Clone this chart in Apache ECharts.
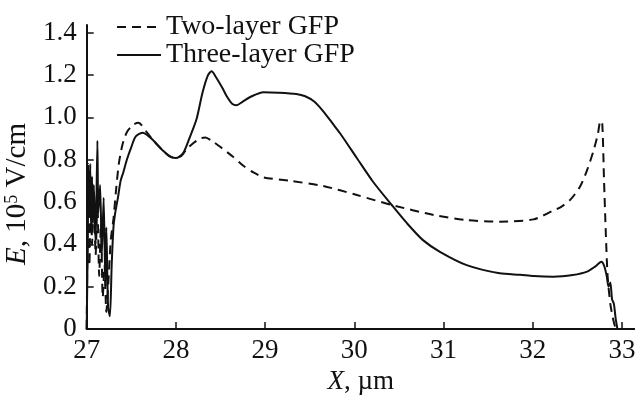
<!DOCTYPE html>
<html>
<head>
<meta charset="utf-8">
<script src="https://cdn.jsdelivr.net/npm/echarts@6/dist/echarts.min.js"></script>
<style>
  html, body { margin: 0; padding: 0; background: #fff; }
  #chart { width: 635px; height: 399px; }
</style>
</head>
<body>
<div id="chart"></div>
<script>
// two-layer GFP (dashed)
var twoX = [27.00, 27.01, 27.02, 27.03, 27.05, 27.06, 27.08, 27.10, 27.12, 27.14, 27.16, 27.18, 27.20, 27.22, 27.24,
  27.27, 27.30, 27.33, 27.36, 27.40, 27.45, 27.52, 27.58, 27.67, 27.75, 27.85, 27.95, 28.05, 28.12, 28.20, 28.27,
  28.33, 28.40, 28.50, 28.64, 28.76, 28.87, 28.98, 29.28, 29.65, 30.03, 30.42, 30.89, 31.26, 31.63, 32.01, 32.23,
  32.31, 32.42, 32.53, 32.61, 32.68, 32.73, 32.76, 32.78, 32.80, 32.82, 32.84, 32.87, 32.90, 32.93];
var twoY = [0.00, 0.50, 0.78, 0.30, 0.72, 0.40, 0.65, 0.35, 0.60, 0.25, 0.50, 0.15, 0.30, 0.08, 0.20,
  0.42, 0.52, 0.66, 0.78, 0.87, 0.93, 0.965, 0.975, 0.932, 0.89, 0.845, 0.812, 0.815, 0.85, 0.88, 0.90,
  0.905, 0.89, 0.86, 0.814, 0.77, 0.74, 0.717, 0.70, 0.676, 0.633, 0.586, 0.539, 0.515, 0.507, 0.518, 0.56,
  0.575, 0.61, 0.672, 0.751, 0.84, 0.92, 0.984, 0.97, 0.70, 0.45, 0.25, 0.12, 0.05, 0.00];

// three-layer GFP (solid)
var threeX = [27.00, 27.01, 27.02, 27.03, 27.04, 27.05, 27.06, 27.07, 27.08, 27.10, 27.12, 27.13, 27.15, 27.17, 27.19,
  27.21, 27.22, 27.24, 27.26, 27.28, 27.30, 27.32, 27.35, 27.38, 27.41, 27.45, 27.50, 27.55, 27.63, 27.75,
  27.85, 27.95, 28.00, 28.08, 28.15, 28.23, 28.30, 28.36, 28.40, 28.45, 28.52, 28.57, 28.63, 28.68, 28.75, 28.85,
  28.98, 29.15, 29.35, 29.45, 29.55, 29.65, 29.75, 29.84, 30.03, 30.21, 30.42, 30.59, 30.77, 30.96, 31.26, 31.63,
  31.86, 32.01, 32.23, 32.45, 32.61, 32.70, 32.77, 32.80, 32.83, 32.85, 32.87, 32.89, 32.91, 32.93, 32.95];
var threeY = [0.00, 0.35, 0.75, 0.55, 0.78, 0.45, 0.72, 0.50, 0.68, 0.40, 0.89, 0.55, 0.68, 0.35, 0.62,
  0.20, 0.48, 0.10, 0.06, 0.30, 0.48, 0.55, 0.62, 0.70, 0.74, 0.80, 0.86, 0.91, 0.928, 0.89,
  0.845, 0.812, 0.808, 0.83, 0.90, 0.99, 1.12, 1.20, 1.218, 1.19, 1.14, 1.10, 1.065, 1.058, 1.075, 1.10,
  1.119, 1.117, 1.111, 1.10, 1.075, 1.03, 0.975, 0.925, 0.807, 0.696, 0.586, 0.50, 0.42, 0.365, 0.302, 0.263,
  0.256, 0.25, 0.247, 0.255, 0.271, 0.295, 0.318, 0.30, 0.25, 0.20, 0.22, 0.14, 0.12, 0.05, 0.00];

var xTicks = [27, 28, 29, 30, 31, 32, 33];
var yTicks = [0, 0.2, 0.4, 0.6, 0.8, 1.0, 1.2, 1.4];

function pairs(xs, ys) {
  return xs.map(function (x, i) { return [x, ys[i]]; });
}

var chart = echarts.init(document.getElementById('chart'));
var font = 'Liberation Serif';

var option = {
  animation: false,
  backgroundColor: '#fff',
  textStyle: { fontFamily: font, color: '#111' },
  legend: {
    orient: 'vertical',
    left: 111,
    top: 8,
    itemWidth: 44,
    itemHeight: 14,
    itemGap: 0,
    itemStyle: { opacity: 0 },
    textStyle: { fontFamily: font, fontSize: 28, color: '#111' },
    data: ['Two-layer GFP', 'Three-layer GFP']
  },
  grid: { left: 86.7, right: 0, top: 25, bottom: 70, outerBoundsMode: 'none' },
  xAxis: {
    type: 'value',
    min: 27,
    max: 33.147,
    name: '{i|X}, µm',
    nameLocation: 'middle',
    nameGap: 37,
    nameTextStyle: {
      fontFamily: font, fontSize: 27, color: '#111',
      rich: { i: { fontFamily: font, fontSize: 27, fontStyle: 'italic', color: '#111' } }
    },
    splitLine: { show: false },
    axisLine: { onZero: false, lineStyle: { color: '#111', width: 2 } },
    axisTick: { inside: true, length: 7, lineStyle: { color: '#111', width: 1.5 }, customValues: xTicks },
    axisLabel: { customValues: xTicks, fontFamily: font, fontSize: 27, color: '#111', margin: 8 }
  },
  yAxis: {
    type: 'value',
    min: 0,
    max: 1.4367,
    name: '{i|E}, 10{s|5} V/cm',
    nameLocation: 'middle',
    nameGap: 46,
    nameTextStyle: {
      fontFamily: font, fontSize: 29, color: '#111',
      padding: [0, 34, 0, 0],
      rich: {
        i: { fontFamily: font, fontSize: 29, fontStyle: 'italic', color: '#111' },
        s: { fontFamily: font, fontSize: 18, color: '#111', verticalAlign: 'top', padding: [0, 0, 10, 0] }
      }
    },
    splitLine: { show: false },
    axisLine: { show: true, lineStyle: { color: '#111', width: 2 } },
    axisTick: { show: true, inside: true, length: 7, lineStyle: { color: '#111', width: 1.5 }, customValues: yTicks },
    axisLabel: {
      customValues: yTicks, fontFamily: font, fontSize: 27, color: '#111', margin: 10,
      formatter: function (v) { return v === 0 ? '0' : v.toFixed(1); }
    }
  },
  series: [
    {
      name: 'Two-layer GFP',
      type: 'line',
      symbol: 'none',
      smooth: 0.25,
      color: '#111',
      lineStyle: { color: '#111', width: 2, type: [9, 6] },
      data: pairs(twoX, twoY)
    },
    {
      name: 'Three-layer GFP',
      type: 'line',
      symbol: 'none',
      smooth: 0.25,
      color: '#111',
      lineStyle: { color: '#111', width: 2 },
      data: pairs(threeX, threeY)
    }
  ]
};

chart.setOption(option);
</script>
</body>
</html>
